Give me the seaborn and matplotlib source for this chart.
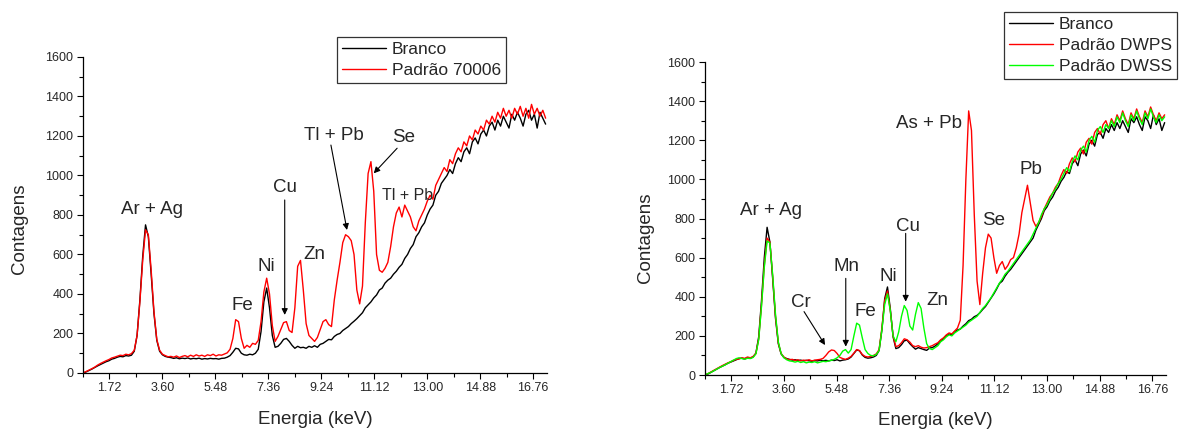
import seaborn as sns
import matplotlib.pyplot as plt
from matplotlib.ticker import FixedLocator, MultipleLocator, FormatStrFormatter

sns.set_style("ticks")
plt.rcParams["font.family"] = ["Liberation Sans", "DejaVu Sans"]

# Energia (keV) dos canais
energia = [
    0.8, 0.9, 1.0, 1.1, 1.2, 1.3, 1.4, 1.5, 1.6, 1.7,
    1.8, 1.9, 2.0, 2.1, 2.2, 2.3, 2.4, 2.5, 2.6, 2.7,
    2.8, 2.9, 3.0, 3.1, 3.2, 3.3, 3.4, 3.5, 3.6, 3.7,
    3.8, 3.9, 4.0, 4.1, 4.2, 4.3, 4.4, 4.5, 4.6, 4.7,
    4.8, 4.9, 5.0, 5.1, 5.2, 5.3, 5.4, 5.5, 5.6, 5.7,
    5.8, 5.9, 6.0, 6.1, 6.2, 6.3, 6.4, 6.5, 6.6, 6.7,
    6.8, 6.9, 7.0, 7.1, 7.2, 7.3, 7.4, 7.5, 7.6, 7.7,
    7.8, 7.9, 8.0, 8.1, 8.2, 8.3, 8.4, 8.5, 8.6, 8.7,
    8.8, 8.9, 9.0, 9.1, 9.2, 9.3, 9.4, 9.5, 9.6, 9.7,
    9.8, 9.9, 10.0, 10.1, 10.2, 10.3, 10.4, 10.5, 10.6, 10.7,
    10.8, 10.9, 11.0, 11.1, 11.2, 11.3, 11.4, 11.5, 11.6, 11.7,
    11.8, 11.9, 12.0, 12.1, 12.2, 12.3, 12.4, 12.5, 12.6, 12.7,
    12.8, 12.9, 13.0, 13.1, 13.2, 13.3, 13.4, 13.5, 13.6, 13.7,
    13.8, 13.9, 14.0, 14.1, 14.2, 14.3, 14.4, 14.5, 14.6, 14.7,
    14.8, 14.9, 15.0, 15.1, 15.2, 15.3, 15.4, 15.5, 15.6, 15.7,
    15.8, 15.9, 16.0, 16.1, 16.2, 16.3, 16.4, 16.5, 16.6, 16.7,
    16.8, 16.9, 17.0, 17.1, 17.2,
]

# Painel esquerdo
branco_esq = [
    0, 6, 13, 20, 28, 36, 43, 50, 57, 62,
    70, 74, 80, 84, 82, 88, 86, 90, 110, 190,
    370, 590, 750, 690, 500, 300, 165, 110, 92, 84,
    80, 78, 74, 77, 72, 75, 73, 76, 71, 74,
    72, 75, 70, 73, 71, 74, 72, 73, 70, 74,
    75, 80, 88, 105, 125, 122, 100, 92, 90, 95,
    92, 100, 120, 210, 360, 430, 330, 190, 130, 135,
    150, 170, 175, 160, 140, 125, 135, 128, 130, 125,
    135, 130, 138, 130, 145, 150, 160, 170, 168, 185,
    195, 200, 215, 225, 235, 250, 262, 275, 290, 305,
    330, 345, 360, 380, 395, 420, 430, 455, 470, 480,
    500, 515, 535, 550, 580, 600, 630, 650, 690, 710,
    740, 760, 800, 830, 850, 900, 920, 960, 980, 1000,
    1030, 1010, 1060, 1090, 1070, 1120, 1140, 1110, 1170, 1190,
    1160, 1210, 1230, 1200, 1250, 1270, 1230, 1280, 1250, 1300,
    1270, 1240, 1310, 1280, 1320, 1290, 1250, 1310, 1330, 1280,
    1310, 1240, 1320, 1290, 1260,
]
padrao_70006 = [
    2, 8, 15, 22, 30, 40, 48, 55, 62, 68,
    76, 80, 85, 90, 88, 95, 92, 98, 115, 190,
    360, 570, 725, 700, 520, 310, 170, 115, 95, 88,
    82, 84, 80, 86, 78, 84, 88, 82, 90, 84,
    92, 86, 90, 84, 92, 88, 95, 86, 92, 90,
    96, 102, 120, 175, 270, 260, 175, 125, 140, 130,
    150, 145, 165, 260, 410, 480, 400, 240, 160, 185,
    220, 255, 260, 215, 205, 330, 540, 570, 420, 250,
    190, 175, 160, 180, 220, 260, 270, 245, 235, 370,
    470, 560, 660, 700, 690, 670, 600, 420, 350, 440,
    760, 1010, 1070, 920, 600, 520, 510, 530, 560, 640,
    740, 810, 840, 790, 850, 820, 790, 740, 720, 770,
    800, 830, 870, 900, 880, 950, 980, 1010, 1040, 1020,
    1080, 1060, 1110, 1140, 1120, 1170, 1150, 1200, 1180, 1230,
    1210, 1250, 1230, 1280, 1260, 1300, 1270, 1320, 1290, 1340,
    1300, 1330, 1290, 1340, 1310, 1350, 1300, 1340, 1290, 1360,
    1310, 1340, 1300, 1330, 1290,
]

# Painel direito
branco_dir = [
    0, 6, 14, 22, 30, 38, 45, 52, 60, 66,
    72, 78, 84, 86, 82, 88, 86, 92, 112, 195,
    380, 600, 755, 680, 490, 290, 160, 108, 90, 84,
    80, 76, 78, 74, 76, 72, 75, 73, 70, 74,
    72, 76, 73, 75, 72, 76, 74, 78, 72, 76,
    78, 82, 92, 110, 128, 124, 102, 90, 86, 88,
    92, 100, 125, 230, 390, 450, 340, 195, 135, 140,
    155, 175, 178, 160, 145, 132, 140, 135, 130, 126,
    138, 140, 148, 160, 175, 185, 200, 210, 205, 222,
    230, 235, 250, 262, 278, 285, 298, 305, 318, 335,
    350, 372, 395, 415, 440, 468, 480, 505, 525, 540,
    560, 580, 600, 620, 640, 660, 680, 700, 740, 770,
    800, 840, 860, 890, 910, 940, 960, 990, 1010, 1040,
    1030, 1080, 1100, 1070, 1130, 1150, 1120, 1180, 1200, 1170,
    1230, 1240, 1210, 1260, 1240, 1280, 1250, 1290, 1260, 1300,
    1270, 1240, 1310, 1290, 1320, 1280, 1250, 1320, 1300, 1260,
    1330, 1280, 1310, 1250, 1290,
]
padrao_dwps = [
    2, 8, 16, 24, 32, 40, 48, 55, 62, 68,
    75, 80, 82, 88, 85, 92, 88, 95, 110, 185,
    360, 560, 700, 680, 500, 300, 165, 110, 92, 82,
    78, 80, 74, 78, 72, 76, 74, 78, 72, 76,
    78, 80, 85, 100, 118, 128, 125, 110, 90, 84,
    80, 86, 95, 112, 130, 125, 105, 95, 92, 95,
    100, 108, 130, 240, 380, 430, 330, 200, 145, 150,
    165, 185, 180, 168, 150, 145, 150, 142, 138, 140,
    145, 150, 158, 165, 180, 190, 205, 215, 210, 225,
    240, 280, 560, 1000, 1350, 1250, 820, 480, 360, 520,
    650, 720, 700, 600, 520, 560, 580, 540, 560, 590,
    600, 650, 720, 830, 900, 970, 880, 790, 760, 780,
    810, 850, 880, 910, 930, 960, 980, 1020, 1050, 1030,
    1080, 1110, 1090, 1140, 1160, 1130, 1190, 1210, 1180, 1240,
    1260, 1230, 1280, 1300, 1260, 1310, 1280, 1330, 1300, 1350,
    1310, 1280, 1340, 1310, 1360, 1320, 1290, 1350, 1320, 1370,
    1330, 1300, 1340, 1310, 1330,
]
padrao_dwss = [
    2, 8, 14, 22, 30, 38, 45, 52, 60, 68,
    76, 84, 88, 84, 80, 86, 84, 90, 108, 180,
    350, 550, 685, 675, 510, 310, 170, 110, 88, 78,
    72, 70, 66, 70, 64, 68, 62, 66, 64, 68,
    62, 66, 70, 68, 72, 75, 80, 88, 100, 122,
    130, 112, 130, 200, 265, 255, 190, 130, 110, 100,
    98, 105, 125, 230, 360, 415, 330, 200, 170, 220,
    300, 355, 330, 250, 230, 310, 370, 340, 240, 160,
    135, 130, 140, 150, 170, 180, 195, 205, 200, 215,
    225, 235, 245, 255, 270, 280, 290, 300, 320, 340,
    355, 375, 395, 420, 445, 470, 490, 515, 530, 550,
    570, 590, 610, 630, 650, 670, 690, 720, 750, 780,
    820, 850, 870, 900, 930, 950, 980, 1000, 1030, 1060,
    1040, 1090, 1120, 1100, 1150, 1170, 1140, 1200, 1220, 1190,
    1250, 1270, 1240, 1280, 1260, 1300, 1270, 1320, 1290, 1340,
    1300, 1270, 1330, 1300, 1350, 1310, 1280, 1340, 1310, 1360,
    1320, 1290, 1330, 1300, 1320,
]

ticks_x = [1.72, 3.60, 5.48, 7.36, 9.24, 11.12, 13.00, 14.88, 16.76]

fig = plt.figure(figsize=(11.82, 4.30), dpi=100)
ax1 = fig.add_axes([0.0702, 0.1326, 0.3926, 0.7349])
ax2 = fig.add_axes([0.5964, 0.1279, 0.3901, 0.7279])

lw = 1.0
sns.lineplot(x=energia, y=branco_esq, ax=ax1, color="black", lw=lw, label="Branco")
sns.lineplot(x=energia, y=padrao_70006, ax=ax1, color="red", lw=lw, label="Padrão 70006")

sns.lineplot(x=energia, y=branco_dir, ax=ax2, color="black", lw=lw, label="Branco")
sns.lineplot(x=energia, y=padrao_dwps, ax=ax2, color="red", lw=lw, label="Padrão DWPS")
sns.lineplot(x=energia, y=padrao_dwss, ax=ax2, color="#00ff00", lw=lw, label="Padrão DWSS")

for ax in (ax1, ax2):
    ax.set_xlim(0.78, 17.25)
    ax.set_ylim(0, 1600)
    ax.xaxis.set_major_locator(FixedLocator(ticks_x))
    ax.xaxis.set_minor_locator(FixedLocator([t - 0.94 for t in ticks_x] + [17.70]))
    ax.xaxis.set_major_formatter(FormatStrFormatter("%.2f"))
    ax.yaxis.set_major_locator(MultipleLocator(200))
    ax.yaxis.set_minor_locator(MultipleLocator(100))
    ax.tick_params(which="major", direction="out", length=4.3, width=0.8,
                   labelsize=9, pad=2.5, color="black")
    ax.tick_params(which="minor", direction="out", length=3, width=0.8, color="black")
    for s in ("top", "right"):
        ax.spines[s].set_visible(False)
    for s in ("left", "bottom"):
        ax.spines[s].set_color("black")
        ax.spines[s].set_linewidth(0.9)
    ax.set_xlabel("Energia (keV)", fontsize=13.5)
    ax.set_ylabel("Contagens", fontsize=13.5)
    ax.xaxis.label.set_va("center")
    ax.yaxis.label.set_va("center")

ax1.xaxis.set_label_coords(0.5, -0.146)
ax1.yaxis.set_label_coords(-0.136, 0.455)
ax2.xaxis.set_label_coords(0.5, -0.144)
ax2.yaxis.set_label_coords(-0.128, 0.44)

# Legendas
leg_kw = dict(loc="upper left", frameon=True, fancybox=False, fontsize=12.5,
              handlelength=2.5, handletextpad=0.35, borderpad=0.3,
              labelspacing=0.32, borderaxespad=0)
leg1 = ax1.legend(bbox_to_anchor=(0.2851, 0.914), bbox_transform=fig.transFigure, **leg_kw)
leg2 = ax2.legend(bbox_to_anchor=(0.8494, 0.972), bbox_transform=fig.transFigure, **leg_kw)
for leg in (leg1, leg2):
    leg.get_frame().set_edgecolor("black")
    leg.get_frame().set_linewidth(0.9)

big = 13.5
# rótulos do painel esquerdo
for txt, x, y, fs in [("Ar + Ag", 3.23, 830, big), ("Fe", 6.42, 341, big),
                      ("Ni", 7.29, 538, big), ("Cu", 7.96, 938, big),
                      ("Zn", 8.99, 598, big), ("Tl + Pb", 9.70, 1202, big),
                      ("Se", 12.15, 1191, big), ("Tl + Pb", 12.29, 901, 11.5)]:
    ax1.text(x, y, txt, fontsize=fs, ha="center", va="center")

arrow = dict(arrowstyle="-|>", color="black", lw=0.8, mutation_scale=9,
             shrinkA=0, shrinkB=0)
for (x0, y0), (x1, y1) in [((7.94, 876), (7.94, 294)),
                           ((9.58, 1154), (10.15, 724)),
                           ((11.93, 1138), (11.10, 1011))]:
    ax1.annotate("", xy=(x1, y1), xytext=(x0, y0), arrowprops=arrow)

# rótulos do painel direito
for txt, x, y in [("Ar + Ag", 3.15, 840), ("Cr", 4.21, 370), ("Mn", 5.85, 554),
                  ("Fe", 6.50, 324), ("Ni", 7.32, 506), ("Cu", 8.03, 758),
                  ("Zn", 9.09, 380), ("As + Pb", 8.79, 1287), ("Se", 11.09, 792),
                  ("Pb", 12.44, 1052)]:
    ax2.text(x, y, txt, fontsize=big, ha="center", va="center")

for (x0, y0), (x1, y1) in [((4.32, 324), (5.07, 153)),
                           ((5.81, 494), (5.81, 145)),
                           ((7.95, 724), (7.95, 375))]:
    ax2.annotate("", xy=(x1, y1), xytext=(x0, y0), arrowprops=arrow)

fig.savefig("out.png", dpi=100)
